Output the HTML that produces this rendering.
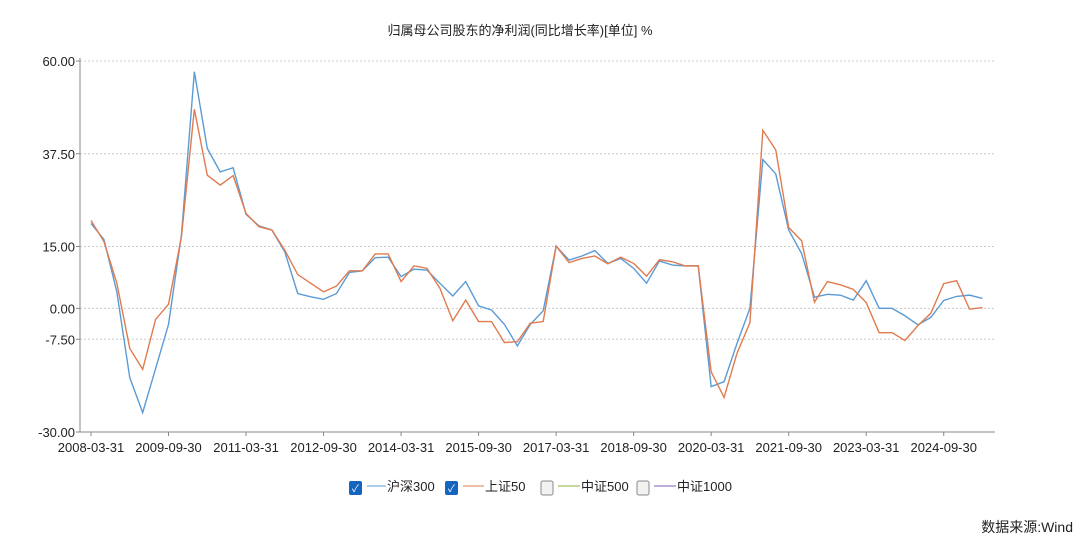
<!DOCTYPE html>
<html><head><meta charset="utf-8"><style>
body{margin:0;background:#fff;width:1080px;height:538px;overflow:hidden;font-family:"Liberation Sans","Noto Sans CJK SC",sans-serif}
</style></head><body>
<svg width="1080" height="538" xmlns="http://www.w3.org/2000/svg">
<text x="520" y="35" text-anchor="middle" font-size="13" fill="#222">归属母公司股东的净利润(同比增长率)[单位] %</text>
<g id="grid"></g><g id="axes"></g><g id="series"></g>
<g font-size="13" fill="#222">
 <g>
  <rect x="349" y="481" width="13" height="14" rx="2" fill="#1565c0"/><text x="352" y="492" font-size="10" fill="#fff">✓</text>
  <line x1="367" y1="486" x2="386" y2="486" stroke="#5b9bd5"/><text x="387" y="491">沪深300</text></g>
 <g>
  <rect x="445" y="481" width="13" height="14" rx="2" fill="#1565c0"/><text x="448" y="492" font-size="10" fill="#fff">✓</text>
  <line x1="463" y1="486" x2="484" y2="486" stroke="#e07b4f"/><text x="485" y="491">上证50</text></g>
 <g>
  <rect x="541" y="481" width="12" height="14" rx="2" fill="#f2f2f2" stroke="#888"/>
  <line x1="558" y1="486" x2="580" y2="486" stroke="#8db03e"/><text x="581" y="491">中证500</text></g>
 <g>
  <rect x="637" y="481" width="12" height="14" rx="2" fill="#f2f2f2" stroke="#888"/>
  <line x1="654" y1="486" x2="676" y2="486" stroke="#7e5fb0"/><text x="677" y="491">中证1000</text></g>
</g>
<text x="1073" y="532" text-anchor="end" font-size="14" fill="#222">数据来源:Wind</text>
</svg>
<script>
const yTicks=[60,37.5,15,0,-7.5,-30];
const yTickLabels=["60.00","37.50","15.00","0.00","-7.50","-30.00"];
const xTickLabels=["2008-03-31","2009-09-30","2011-03-31","2012-09-30","2014-03-31","2015-09-30","2017-03-31","2018-09-30","2020-03-31","2021-09-30","2023-03-31","2024-09-30"];
const hs300=[20.6,16.7,4,-16.8,-25.3,-14.6,-3.9,17.8,57.4,38.8,33.1,34.1,22.8,20.0,19.0,13.7,3.6,2.8,2.2,3.6,8.7,9.1,12.3,12.4,7.7,9.5,9.3,6.1,3.0,6.5,0.6,-0.4,-3.9,-9.1,-3.9,-0.6,15.1,11.7,12.7,14.0,10.9,12.1,9.7,6.1,11.5,10.5,10.3,10.3,-19.0,-17.8,-8.5,0,36.1,32.6,19.0,13.3,2.7,3.4,3.2,2.0,6.7,0,0,-1.8,-4.0,-2.2,1.9,2.9,3.2,2.4];
const sz50=[21.3,16.2,6.1,-9.7,-14.8,-2.7,1.0,17.4,48.3,32.3,29.9,32.2,23.0,19.8,19.0,14.1,8.2,6.1,4.0,5.4,9.1,9.1,13.2,13.2,6.5,10.3,9.7,4.9,-3.0,2.0,-3.2,-3.2,-8.3,-8.1,-3.6,-3.2,15.1,11.1,12.1,12.7,10.8,12.4,10.9,7.8,11.8,11.3,10.3,10.3,-15.4,-21.6,-10.9,-3.5,43.2,38.4,19.6,16.4,1.5,6.5,5.7,4.6,1.4,-5.9,-5.9,-7.8,-4.2,-1.2,6.0,6.7,-0.2,0.2];
const NS="http://www.w3.org/2000/svg";
const X0=91,DX=12.92,Y60=61,YM30=432;
const x=i=>X0+i*DX;
const y=v=>Y60+(60-v)*(YM30-Y60)/90;
function mk(t,a,p){const e=document.createElementNS(NS,t);for(const k in a)e.setAttribute(k,a[k]);p.appendChild(e);return e;}
const grid=document.getElementById('grid'),axes=document.getElementById('axes'),ser=document.getElementById('series');
yTicks.forEach((v,k)=>{
 if(v!==-30){const g=mk('line',{x1:80,x2:995,y1:y(v),y2:y(v),stroke:'#ccc','stroke-dasharray':'2,2'},grid);
 
 }
 const t=mk('text',{x:75,y:y(v)+5,'text-anchor':'end','font-size':13,fill:'#222'},axes);t.textContent=yTickLabels[k];
 
 
 mk('line',{x1:76,x2:80,y1:y(v),y2:y(v),stroke:'#888'},axes);
});
const ya=mk('line',{x1:80,x2:80,y1:58,y2:432,stroke:'#888'},axes);


const xa=mk('line',{x1:80,x2:995,y1:432,y2:432,stroke:'#888'},axes);


xTickLabels.forEach((s,k)=>{const xx=x(k*6);
 mk('line',{x1:xx,x2:xx,y1:432,y2:436,stroke:'#888'},axes);
 const t=mk('text',{x:xx,y:452,'text-anchor':'middle','font-size':13,fill:'#222'},axes);t.textContent=s;
 
 });
function line(d,c,n){const p=mk('polyline',{points:d.map((v,i)=>x(i)+','+y(v)).join(' '),fill:'none',stroke:c,'stroke-width':1.4},ser);
 
 }
line(hs300,'#5b9bd5','series-hs300');
line(sz50,'#e07b4f','series-sz50');
</script>
</body></html>
